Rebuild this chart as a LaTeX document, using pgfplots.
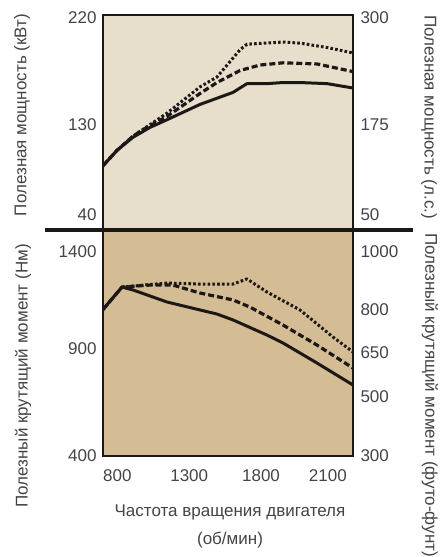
\documentclass[border=0pt]{standalone}
\usepackage{pgfplots}
\pgfplotsset{compat=1.18}
\usepackage{fontspec}
\setmainfont{Liberation Sans}

\definecolor{topbg}{RGB}{231,222,204}
\definecolor{botbg}{RGB}{212,189,149}
\definecolor{ink}{RGB}{28,24,22}
\definecolor{txt}{RGB}{68,68,68}

\pgfplotsset{
  panel/.style={
    scale only axis, width=250pt,
    xmin=700, xmax=2440,
    axis line style={ink, line width=1.3pt},
    major tick length=0pt,
    tick label style={font=\fontsize{17}{20}\selectfont, text=txt},
    /pgf/number format/assume math mode=true,
    clip=true,
  },
  leftside/.style={yticklabel style={xshift=-3pt}},
  rightside/.style={axis y line*=right, axis x line=none,
    yticklabel style={xshift=4pt}},
  solid curve/.style={ink, line width=3pt, line join=round, line cap=round},
  dashed curve/.style={ink, line width=3.2pt, line join=round, dash pattern=on 6pt off 3pt},
  dotted curve/.style={ink, line width=3pt, line join=round, dash pattern=on 2.6pt off 2.2pt},
}

\begin{document}
\begin{tikzpicture}[font=\fontsize{17}{20}\selectfont]
\useasboundingbox (0,0) rectangle (441pt,557pt);

% power, kW
\begin{axis}[panel, leftside, height=215pt,
    at={(103pt,327pt)}, anchor=south west,
    ymin=26.3, ymax=222.7,
    ytick={40,122.2,220}, yticklabels={40,130,220},
    xtick=\empty,
    axis background/.style={fill=topbg}]
  \addplot[solid curve] coordinates {
    (700,85) (797,99) (909,111) (1027,120) (1145,127) (1375,141) (1605,152)
    (1702,160) (1841,160) (1953,161) (2071,161) (2259,160) (2440,156)};
  \addplot[dashed curve] coordinates {
    (700,85) (797,99) (909,112) (978,118) (1145,130) (1375,151) (1493,161)
    (1654,172) (1793,177) (1953,179) (2189,178) (2440,171)};
  \addplot[dotted curve] coordinates {
    (700,85) (797,99) (909,112) (1145,133) (1375,157) (1493,166) (1654,191)
    (1702,196) (1953,198) (2071,197) (2259,193) (2440,188)};
\end{axis}
\begin{axis}[panel, rightside, height=215pt,
    at={(103pt,327pt)}, anchor=south west,
    ymin=26.3, ymax=222.7,
    ytick={40,122.2,220}, yticklabels={50,175,300}]
\end{axis}

% torque, Nm
\begin{axis}[panel, leftside, height=226pt,
    at={(103pt,101pt)}, anchor=south west,
    ymin=400, ymax=1508,
    ytick={400,924.5,1400}, yticklabels={400,900,1400},
    xtick={800,1300,1800,2265}, xticklabels={800,1300,1800,2100},
    xticklabel style={yshift=-10pt},
    axis background/.style={fill=botbg}]
  \addplot[solid curve] coordinates {
    (700,1118) (832,1228) (909,1214) (1145,1155) (1375,1116) (1493,1096)
    (1605,1067) (1841,993) (1953,954) (2071,905) (2189,856) (2440,748)};
  \addplot[dashed curve] coordinates {
    (700,1118) (832,1228) (1027,1238) (1187,1238) (1375,1199) (1605,1165)
    (1723,1130) (1953,1042) (2189,944) (2440,831)};
  \addplot[dotted curve] coordinates {
    (700,1118) (832,1228) (909,1233) (1145,1248) (1375,1243) (1605,1243)
    (1702,1268) (1841,1204) (2071,1116) (2301,983) (2440,910)};
\end{axis}
\begin{axis}[panel, rightside, height=226pt,
    at={(103pt,101pt)}, anchor=south west,
    ymin=400, ymax=1508,
    ytick={400,689,905,1116,1400}, yticklabels={300,500,650,800,1000}]
\end{axis}

\draw[ink, line width=4.5pt] (45pt,327pt) -- (413pt,327pt);

\begin{scope}[text=txt]
  \node[rotate=90] at (22pt,442pt) {Полезная мощность (кВт)};
  \node[rotate=-90] at (429pt,440pt) {Полезная мощность (л.с.)};
  \node[rotate=90] at (23pt,181pt) {Полезный крутящий момент (Нм)};
  \node[rotate=-90] at (430pt,162pt) {Полезный крутящий момент (футо-фунт)};
  \node at (230pt,45pt) {Частота вращения двигателя};
  \node at (230pt,17pt) {(об/мин)};
\end{scope}
\end{tikzpicture}
\end{document}
